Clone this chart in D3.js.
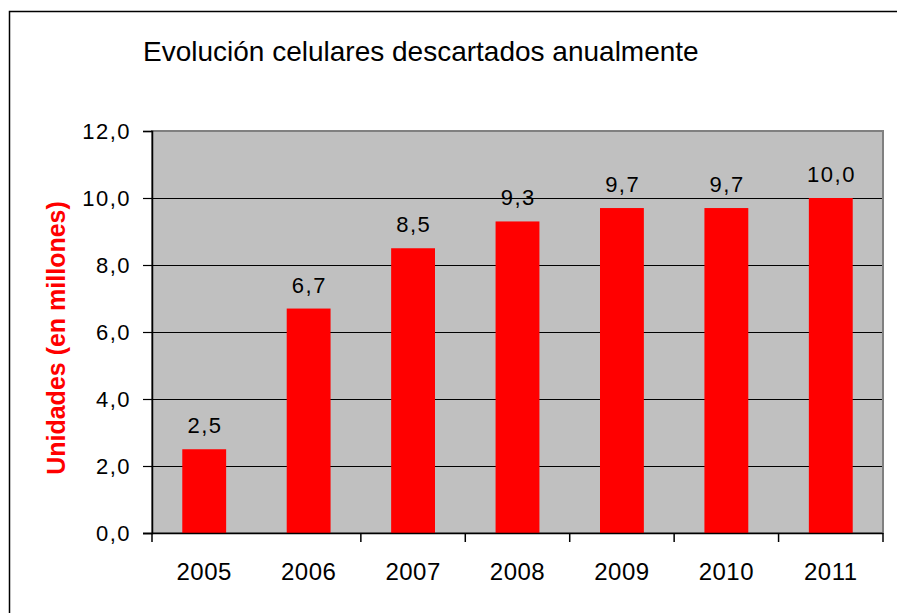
<!DOCTYPE html>
<html>
<head>
<meta charset="utf-8">
<script src="https://cdn.jsdelivr.net/npm/d3@7"></script>
<style>
  html, body { margin: 0; padding: 0; background: #fff; }
  svg { display: block; font-family: "Liberation Sans", Arial, sans-serif; }
</style>
</head>
<body>
<svg id="chart" width="897" height="613"></svg>
<script>
// ---- data ----
const years = ["2005", "2006", "2007", "2008", "2009", "2010", "2011"];
const values = [2.5, 6.7, 8.5, 9.3, 9.7, 9.7, 10.0];
const yTicks = [0, 2, 4, 6, 8, 10, 12];
const title = "Evolución celulares descartados anualmente";
const yTitle = "Unidades (en millones)";

// ---- layout ----
const W = 897, H = 613;
const plot = { left: 152, right: 883, top: 131, bottom: 533 };
const fmt = v => d3.format(".1f")(v).replace(".", ",");

const svg = d3.select("#chart");
svg.append("rect").attr("width", W).attr("height", H).attr("fill", "#fff");

// outer chart border (top and left only visible)
svg.append("path")
  .attr("d", `M9.5,${H} V11.5 H${W}`)
  .attr("fill", "none").attr("stroke", "#000").attr("stroke-width", 1.5);

const x = d3.scaleBand().domain(years)
  .range([plot.left, plot.right])
  .paddingInner(0.58).paddingOuter(0.29);
const xb = d3.scaleBand().domain(years).range([plot.left, plot.right]).padding(0);
const y = d3.scaleLinear().domain([0, 12]).range([plot.bottom, plot.top]);

// plot background
svg.append("rect")
  .attr("x", plot.left).attr("y", plot.top)
  .attr("width", plot.right - plot.left).attr("height", plot.bottom - plot.top)
  .attr("fill", "#c0c0c0");

// gridlines
svg.append("g").selectAll("line")
  .data(yTicks.filter(t => t > 0 && t < 12))
  .join("line")
  .attr("x1", plot.left).attr("x2", plot.right)
  .attr("y1", d => Math.round(y(d)) + 0.5).attr("y2", d => Math.round(y(d)) + 0.5)
  .attr("stroke", "#000").attr("stroke-width", 1.2);

// plot border
svg.append("rect")
  .attr("x", plot.left).attr("y", plot.top)
  .attr("width", plot.right - plot.left).attr("height", plot.bottom - plot.top)
  .attr("fill", "none").attr("stroke", "#808080").attr("stroke-width", 2);

// bars
svg.append("g").selectAll("rect")
  .data(values)
  .join("rect")
  .attr("x", (d, i) => x(years[i]))
  .attr("width", x.bandwidth())
  .attr("y", d => y(d))
  .attr("height", d => y(0) - y(d))
  .attr("fill", "#ff0000");

// data labels
svg.append("g").selectAll("text")
  .data(values)
  .join("text")
  .attr("x", (d, i) => x(years[i]) + x.bandwidth() / 2 + 0.75)
  .attr("y", d => y(d) - 16)
  .attr("text-anchor", "middle")
  .attr("font-size", 22)
  .attr("letter-spacing", 1.5)
  .attr("fill", "#000")
  .text(d => fmt(d));

// y axis
const yAxis = svg.append("g").attr("transform", `translate(${plot.left},0)`)
  .call(d3.axisLeft(y).tickValues(yTicks).tickSize(9).tickPadding(12).tickFormat(fmt));
yAxis.select(".domain").attr("stroke", "#000").attr("stroke-width", 1.5);
yAxis.selectAll(".tick line").attr("stroke", "#000").attr("stroke-width", 1.2);
yAxis.selectAll(".tick text")
  .attr("font-size", 22).attr("letter-spacing", 1.5)
  .attr("font-family", "Liberation Sans, Arial, sans-serif")
  .attr("fill", "#000").attr("dy", "0.36em");

// x axis
const xAxis = svg.append("g").attr("transform", `translate(0,${plot.bottom})`);
xAxis.append("line")
  .attr("x1", plot.left - 9).attr("x2", plot.right)
  .attr("y1", 0.5).attr("y2", 0.5)
  .attr("stroke", "#000").attr("stroke-width", 1.5);
const boundaries = years.map(d => xb(d)).concat([xb.range()[1]]);
xAxis.selectAll("line.tk")
  .data(boundaries.filter((d, i) => i !== 1))
  .join("line").attr("class", "tk")
  .attr("x1", d => d).attr("x2", d => d)
  .attr("y1", 0).attr("y2", 9)
  .attr("stroke", "#000").attr("stroke-width", 1.5);
xAxis.selectAll("text")
  .data(years)
  .join("text")
  .attr("x", d => x(d) + x.bandwidth() / 2)
  .attr("y", 47)
  .attr("text-anchor", "middle")
  .attr("font-size", 24)
  .attr("letter-spacing", 0.5)
  .attr("fill", "#000")
  .text(d => d);

// title
svg.append("text")
  .attr("x", 143).attr("y", 61)
  .attr("font-size", 28)
  .attr("fill", "#000")
  .text(title);

// y title
svg.append("text")
  .attr("transform", `translate(64.5,${(plot.top + plot.bottom) / 2 + 6}) rotate(-90)`)
  .attr("text-anchor", "middle")
  .attr("font-size", 25)
  .attr("font-weight", "bold")
  .attr("fill", "#ff0000")
  .text(yTitle);
</script>
</body>
</html>
